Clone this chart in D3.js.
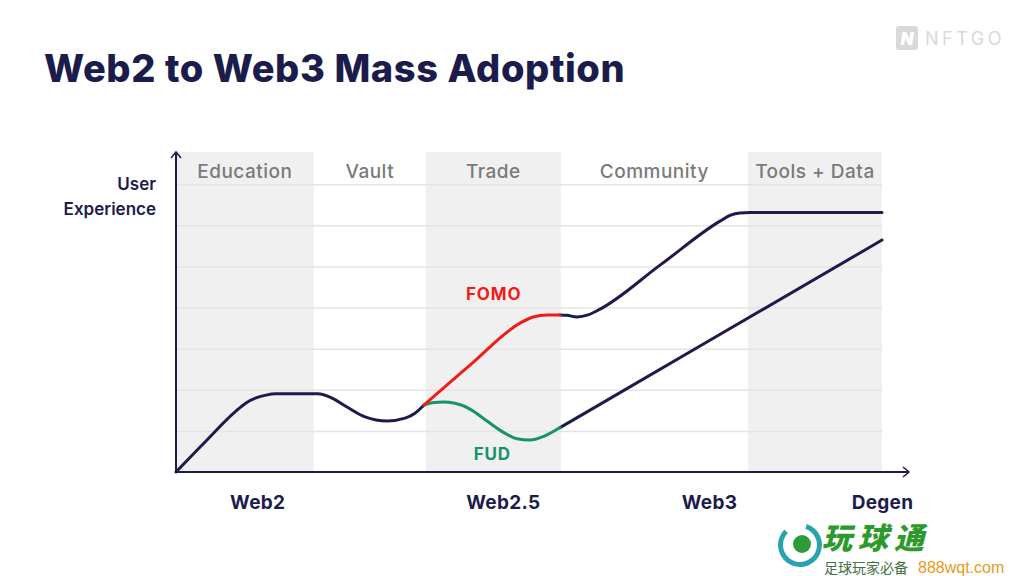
<!DOCTYPE html>
<html>
<head>
<meta charset="utf-8">
<script src="https://cdn.jsdelivr.net/npm/d3@7"></script>
<style>
  body { margin: 0; background: #fff; }
  svg { display: block; font-family: "Inter", "Open Sans", sans-serif; }
</style>
</head>
<body>
<svg id="chart" width="1024" height="576"></svg>
<script>
// stages along the adoption axis (x units 0..100)
const stageNames = ["Education", "Vault", "Trade", "Community", "Tools + Data"];
const stageEdges = [0, 19.5, 35.4, 54.5, 81.0, 100];
const shadedStages = ["Education", "Trade", "Tools + Data"];

const eraLabels = ["Web2", "Web2.5", "Web3", "Degen"];
const eraPositions = [11.5, 46.3, 75.5, 100];

const gridLevels = [1, 2, 3, 4, 5, 6, 7];

// user experience curves, [x, y] in chart units
const baseCurve = [[0, 0], [4.11, 0.73], [8.36, 1.46], [9.92, 1.68], [11.33, 1.80],
  [12.75, 1.87], [14.16, 1.90], [20.11, 1.90], [21.81, 1.82], [24.22, 1.58],
  [26.77, 1.34], [29.89, 1.24], [32.44, 1.31], [33.85, 1.43], [35.13, 1.63]];
const fomoCurve = [[35.13, 1.63], [41.64, 2.60], [48.73, 3.62], [50.57, 3.77],
  [52.55, 3.82], [54.39, 3.82]];
const fudCurve = [[35.13, 1.63], [36.54, 1.69], [37.82, 1.70], [39.52, 1.67],
  [41.64, 1.53], [44.05, 1.24], [46.32, 0.97], [48.30, 0.81], [50.14, 0.78],
  [52.27, 0.88], [54.39, 1.08]];
const upperCurve = [[54.39, 3.82], [55.38, 3.81], [56.80, 3.77], [58.36, 3.82],
  [60.06, 3.96], [68.56, 5.03], [77.05, 6.10], [78.47, 6.24], [79.89, 6.30],
  [81.30, 6.31], [100, 6.31]];
const lowerCurve = [[54.39, 1.08], [77.2, 3.36], [100, 5.64]];

const navy = "#1c1c4c";
const red = "#f01c1c";
const green = "#169465";

const svg = d3.select("#chart");

const x = d3.scaleLinear().domain([0, 100]).range([176, 882]);
const y = d3.scaleLinear().domain([0, 8]).range([472, 143]);

// title
svg.append("text")
    .attr("x", 44).attr("y", 82)
    .attr("fill", navy)
    .attr("font-size", 38).attr("font-weight", 800)
    .attr("letter-spacing", 0.6)
    .text("Web2 to Web3 Mass Adoption");

// NFTGO mark
const logo = svg.append("g").attr("fill", "#d9d9d9");
logo.append("rect").attr("x", 896).attr("y", 26).attr("width", 22).attr("height", 24).attr("rx", 3);
logo.append("text").attr("x", 907).attr("y", 45).attr("text-anchor", "middle")
    .attr("fill", "#fff").attr("font-size", 17).attr("font-weight", 900).attr("font-style", "italic").text("N");
logo.append("text").attr("x", 925).attr("y", 45)
    .attr("font-size", 18).attr("font-weight", 400).attr("letter-spacing", 3.5).text("NFTGO");

// shaded stage bands
svg.append("g").selectAll("rect")
    .data(stageNames.map((name, i) => ({ name, x0: stageEdges[i], x1: stageEdges[i + 1] })))
    .join("rect")
    .filter(d => shadedStages.includes(d.name))
    .attr("x", d => x(d.x0))
    .attr("width", d => x(d.x1) - x(d.x0))
    .attr("y", y(7.78))
    .attr("height", y(0) - y(7.78))
    .attr("fill", "#f0f0f0");

// horizontal grid
const grid = svg.append("g")
    .attr("transform", `translate(${x(0)},0)`)
    .call(d3.axisLeft(y).tickValues(gridLevels).tickSize(-(x(100) - x(0))).tickFormat(""));
grid.select(".domain").remove();
grid.selectAll("line").attr("stroke", "#e4e4e4").attr("stroke-width", 1.5);

// stage labels
svg.append("g").selectAll("text")
    .data(stageNames)
    .join("text")
    .attr("x", (d, i) => x((stageEdges[i] + stageEdges[i + 1]) / 2))
    .attr("y", 178)
    .attr("text-anchor", "middle")
    .attr("fill", "#7a7a7a")
    .attr("font-size", 19).attr("font-weight", 500)
    .attr("letter-spacing", 0.5)
    .text(d => d);

// curves
const line = d3.line()
    .x(d => x(d[0]))
    .y(d => y(d[1]))
    .curve(d3.curveMonotoneX);

const curves = [
  { pts: baseCurve, color: navy },
  { pts: upperCurve, color: navy },
  { pts: lowerCurve, color: navy },
  { pts: fudCurve, color: green },
  { pts: fomoCurve, color: red }
];
svg.append("g").selectAll("path")
    .data(curves)
    .join("path")
    .attr("d", d => line(d.pts))
    .attr("fill", "none")
    .attr("stroke", d => d.color)
    .attr("stroke-width", 3)
    .attr("stroke-linecap", "round")
    .attr("stroke-linejoin", "round");

// FOMO / FUD labels
svg.append("text").attr("x", x(45.0)).attr("y", 300)
    .attr("text-anchor", "middle").attr("fill", red)
    .attr("font-size", 17).attr("font-weight", 700).attr("letter-spacing", 0.8).text("FOMO");
svg.append("text").attr("x", x(44.8)).attr("y", 460)
    .attr("text-anchor", "middle").attr("fill", green)
    .attr("font-size", 17).attr("font-weight", 700).attr("letter-spacing", 0.8).text("FUD");

// axes with arrow heads
const axes = svg.append("g").attr("stroke", navy).attr("stroke-width", 2).attr("fill", "none");
axes.append("line").attr("x1", x(0)).attr("y1", y(0)).attr("x2", x(0)).attr("y2", 152);
axes.append("path").attr("d", `M${x(0) - 5},${158}L${x(0)},${152}L${x(0) + 5},${158}`).attr("stroke-width", 1.5);
axes.append("line").attr("x1", x(0)).attr("y1", y(0)).attr("x2", 909).attr("y2", y(0));
axes.append("path").attr("d", `M${903},${y(0) - 5}L${909},${y(0)}L${903},${y(0) + 5}`).attr("stroke-width", 1.5);

// era labels along the bottom
const eraAxis = svg.append("g")
    .attr("transform", `translate(0,${y(0)})`)
    .call(d3.axisBottom(x).tickValues(eraPositions).tickSize(0)
      .tickFormat((d, i) => eraLabels[i]));
eraAxis.select(".domain").remove();
eraAxis.selectAll("text")
    .attr("dy", 0).attr("y", 37)
    .attr("fill", navy)
    .attr("font-family", "Inter, sans-serif")
    .attr("font-size", 19).attr("font-weight", 700)
    .attr("letter-spacing", 0.3);

// y-axis title
const yTitle = svg.append("text")
    .attr("text-anchor", "end")
    .attr("fill", navy)
    .attr("font-size", 17).attr("font-weight", 600);
yTitle.append("tspan").attr("x", 156).attr("y", 190).text("User");
yTitle.append("tspan").attr("x", 156).attr("y", 215).text("Experience");

// watermark
const wm = svg.append("g");
wm.append("path")
    .attr("d", d3.arc()({ innerRadius: 17, outerRadius: 22, startAngle: Math.PI * 0.1, endAngle: Math.PI * 1.75 }))
    .attr("transform", "translate(800,545)")
    .attr("fill", "#2aa3b0");
wm.append("circle").attr("cx", 802).attr("cy", 544).attr("r", 9).attr("fill", "#2e9a3a");
wm.append("text").attr("x", 822).attr("y", 549)
    .attr("fill", "#2e9a2e").attr("font-family", "Noto Sans CJK SC").attr("font-size", 30)
    .attr("font-weight", 900).attr("font-style", "italic").attr("letter-spacing", 6).text("玩球通");
wm.append("text").attr("x", 824).attr("y", 573)
    .attr("fill", "#3f6f45").attr("font-family", "Noto Sans CJK SC").attr("font-size", 14).text("足球玩家必备");
wm.append("text").attr("x", 918).attr("y", 573)
    .attr("fill", "#e89a22").attr("font-family", "Liberation Sans").attr("font-size", 16).text("888wqt.com");
</script>
</body>
</html>
